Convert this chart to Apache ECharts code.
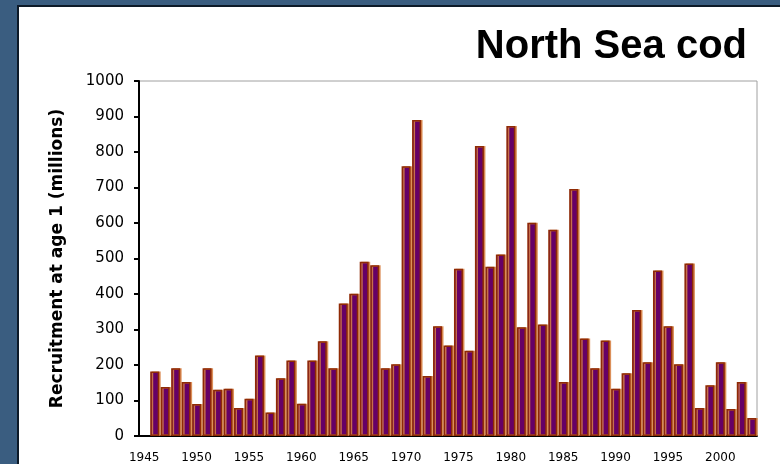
<!DOCTYPE html>
<html>
<head>
<meta charset="utf-8">
<title>North Sea cod</title>
<script src="https://cdn.jsdelivr.net/npm/echarts@6.0.0/dist/echarts.min.js"></script>
<style>
  html, body { margin: 0; padding: 0; background: #3a5d80; }
  #chart { width: 780px; height: 464px; }
</style>
</head>
<body>
<div id="chart"></div>
<script>
// recruitment at age 1, millions (1945 has no bar)
var years = ['1945', '1946', '1947', '1948', '1949', '1950', '1951', '1952', '1953', '1954',
  '1955', '1956', '1957', '1958', '1959', '1960', '1961', '1962', '1963', '1964',
  '1965', '1966', '1967', '1968', '1969', '1970', '1971', '1972', '1973', '1974',
  '1975', '1976', '1977', '1978', '1979', '1980', '1981', '1982', '1983', '1984',
  '1985', '1986', '1987', '1988', '1989', '1990', '1991', '1992', '1993', '1994',
  '1995', '1996', '1997', '1998', '1999', '2000', '2001', '2002', '2003'];
var recruits = ['-', 182, 138, 191, 152, 90, 191, 130, 133, 79,
  105, 227, 66, 163, 213, 91, 213, 267, 191, 373,
  401, 491, 481, 191, 202, 760, 890, 169, 309, 255,
  471, 240, 817, 477, 511, 873, 306, 601, 314, 581,
  152, 696, 275, 191, 269, 133, 177, 355, 208, 466,
  309, 202, 486, 79, 143, 208, 76, 152, 51];
var yTicks = [0, 100, 200, 300, 400, 500, 600, 700, 800, 900, 1000];

var chart = echarts.init(document.getElementById('chart'));

var option = {
  animation: false,
  backgroundColor: '#3a5d80',
  title: {
    text: 'North Sea cod',
    right: 28,
    top: 22,
    textStyle: {
      fontFamily: 'Liberation Sans, Arial',
      fontSize: 40,
      fontWeight: 'bold',
      color: '#000'
    }
  },
  graphic: [{
    type: 'rect',
    z: -10,
    shape: { x: 18, y: 6, width: 800, height: 500 },
    style: { fill: '#ffffff', stroke: '#0d1a28', lineWidth: 2 }
  }],
  grid: {
    left: 139,
    right: 23,
    top: 81,
    bottom: 27,
    show: true,
    backgroundColor: '#ffffff',
    borderColor: '#a0a0a0',
    borderWidth: 1
  },
  xAxis: {
    type: 'category',
    data: years,
    boundaryGap: true,
    axisLine: { lineStyle: { color: '#000', width: 2 } },
    axisTick: { interval: 4, length: 5, lineStyle: { color: '#000', width: 2 } },
    axisLabel: {
      interval: 4,
      margin: 16,
      fontFamily: 'DejaVu Sans',
      fontSize: 12,
      color: '#000'
    },
    splitLine: { show: false }
  },
  yAxis: {
    type: 'value',
    min: yTicks[0],
    max: yTicks[yTicks.length - 1],
    interval: 100,
    name: 'Recruitment at age 1 (millions)',
    nameLocation: 'middle',
    nameGap: 73,
    nameTextStyle: {
      fontFamily: 'DejaVu Sans',
      fontSize: 17,
      fontWeight: 'bold',
      color: '#000'
    },
    axisLine: { show: true, lineStyle: { color: '#000', width: 2 } },
    axisTick: { show: true, length: 5, lineStyle: { color: '#000', width: 2 } },
    axisLabel: {
      margin: 15,
      fontFamily: 'DejaVu Sans',
      fontSize: 15,
      color: '#000',
      formatter: function (v) { return String(v); }
    },
    splitLine: { show: false }
  },
  series: [{
    name: 'Recruitment',
    type: 'bar',
    data: recruits,
    barCategoryGap: '14%',
    itemStyle: {
      color: '#660066',
      borderColor: '#8f2a05',
      borderWidth: 1.5,
      shadowColor: 'rgba(215,130,70,0.85)',
      shadowOffsetX: 1.5,
      shadowOffsetY: 0,
      shadowBlur: 0
    }
  }]
};
chart.setOption(option);
</script>
</body>
</html>
